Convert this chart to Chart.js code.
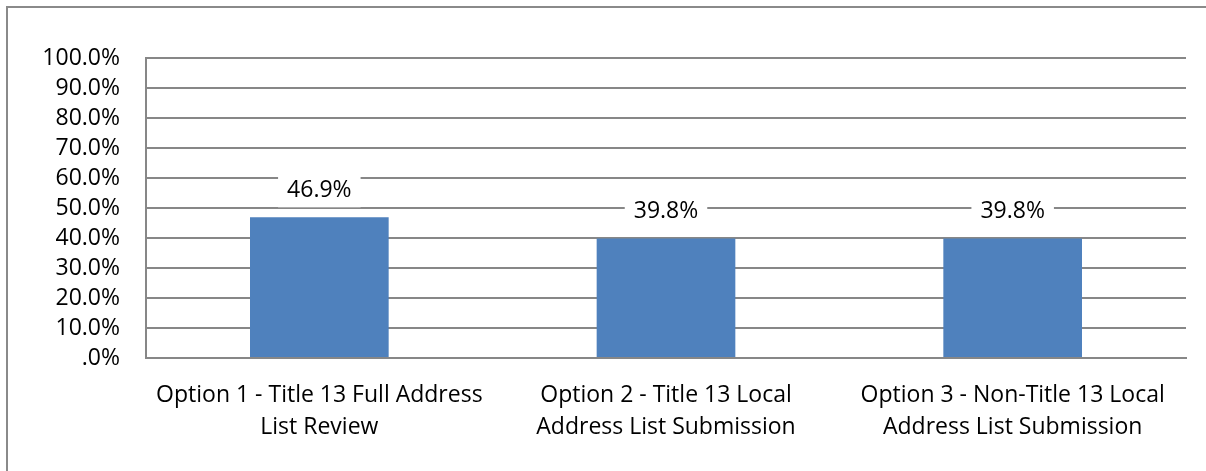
<!DOCTYPE html>
<html>
<head>
<meta charset="utf-8">
<script src="https://cdn.jsdelivr.net/npm/chart.js@4/dist/chart.umd.min.js"></script>
<style>
  html, body { margin: 0; padding: 0; background: #fff; overflow: hidden; }
  canvas { display: block; }
</style>
</head>
<body>
<canvas id="chart" width="1206" height="471"></canvas>
<script>
// participation option shares (percent)
const options = [
  ["Option 1 - Title 13 Full Address", "List Review"],
  ["Option 2 - Title 13 Local", "Address List Submission"],
  ["Option 3 - Non-Title 13 Local", "Address List Submission"]
]
const percents = [46.9, 39.8, 39.8]
const yTicks = [0, 10, 20, 30, 40, 50, 60, 70, 80, 90, 100]

const FONT = "'Open Sans', 'Liberation Sans', sans-serif"
const GRID = "#878787"

//outer frame of the chart object, only top and left edges are in view
const frame = {
  id: "frame",
  beforeDraw(chart){
    const ctx = chart.ctx
    ctx.save()
    ctx.strokeStyle = "#8a8a8a"
    ctx.lineWidth = 2
    ctx.beginPath()
    ctx.moveTo(7, chart.height)
    ctx.lineTo(7, 7)
    ctx.lineTo(chart.width, 7)
    ctx.stroke()
    ctx.restore()
  }
}

//label above each bar, white box hides the gridline behind it
const barLabels = {
  id: "barLabels",
  afterDatasetsDraw(chart){
    const ctx = chart.ctx
    const meta = chart.getDatasetMeta(0)
    ctx.save()
    ctx.font = "23px " + FONT
    ctx.textAlign = "center"
    ctx.textBaseline = "middle"
    meta.data.forEach((bar, i)=>{
      const txt = percents[i].toFixed(1) + "%"
      const w = ctx.measureText(txt).width + 18
      const cy = bar.y - 27
      ctx.fillStyle = "#fff"
      ctx.fillRect(bar.x - w/2, cy - 16, w, 33)
      ctx.fillStyle = "#000"
      ctx.fillText(txt, bar.x, cy)
    })
    ctx.restore()
  }
}

new Chart(document.getElementById("chart"), {
  type: "bar",
  data: {
    labels: options,
    datasets: [{
      data: percents,
      backgroundColor: "#4F81BD",
      borderWidth: 0,
      barPercentage: 0.4,
      categoryPercentage: 1
    }]
  },
  options: {
    responsive: false,
    animation: false,
    layout: { padding: { top: 58, right: 20, left: 0, bottom: 0 } },
    plugins: { legend: { display: false }, tooltip: { enabled: false }, title: { display: false } },
    scales: {
      x: {
        grid: { display: false, drawTicks: false },
        border: { color: GRID, width: 2 },
        ticks: { color: "#000", font: { family: FONT, size: 23, lineHeight: 1.4 }, padding: 21, maxRotation: 0, autoSkip: false },
        afterFit(scale){ scale.height = 113 }
      },
      y: {
        min: 0,
        max: 100,
        afterBuildTicks(scale){ scale.ticks = yTicks.map(v => ({ value: v })) },
        grid: { color: GRID, lineWidth: 2, drawTicks: false },
        border: { color: GRID, width: 2 },
        ticks: {
          color: "#000",
          font: { family: FONT, size: 23 },
          padding: 26,
          autoSkip: false,
          callback: v => v === 0 ? ".0%" : v.toFixed(1) + "%"
        },
        afterFit(scale){ scale.width = 146 }
      }
    }
  },
  plugins: [frame, barLabels]
})
</script>
</body>
</html>
